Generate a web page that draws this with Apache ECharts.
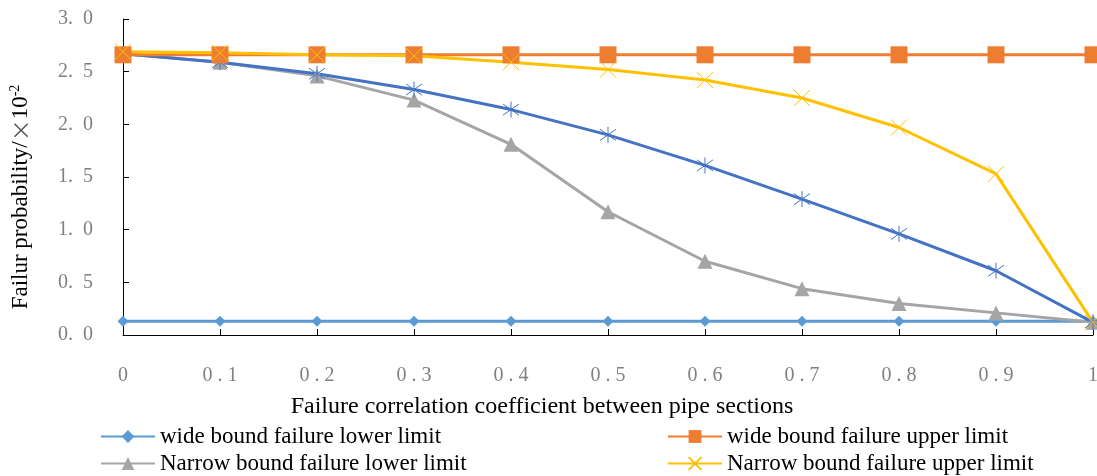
<!DOCTYPE html>
<html>
<head>
<meta charset="utf-8">
<script src="https://cdn.jsdelivr.net/npm/echarts@6/dist/echarts.min.js"></script>
<style>
  html, body { margin: 0; padding: 0; background: #fff; }
  #chart { width: 1097px; height: 476px; }
</style>
</head>
<body>
<div id="chart"></div>
<script>
  // correlation coefficient categories
  const categories = ['0', '0.1', '0.2', '0.3', '0.4', '0.5', '0.6', '0.7', '0.8', '0.9', '1']
  // failure probability, x10^-2
  const wideLower = [0.13, 0.13, 0.13, 0.13, 0.13, 0.13, 0.13, 0.13, 0.13, 0.13, 0.13]
  const wideUpper = [2.66, 2.66, 2.66, 2.66, 2.66, 2.66, 2.66, 2.66, 2.66, 2.66, 2.66]
  const narrowLower = [2.67, 2.59, 2.46, 2.23, 1.81, 1.17, 0.70, 0.44, 0.30, 0.21, 0.12]
  const narrowUpper = [2.69, 2.68, 2.66, 2.65, 2.59, 2.52, 2.42, 2.25, 1.97, 1.53, 0.12]
  const exactValue = [2.67, 2.59, 2.48, 2.33, 2.14, 1.90, 1.61, 1.29, 0.96, 0.61, 0.12]

  const serif = 'Liberation Serif'
  const crossPath = 'path://M0,0L10,10M10,0L0,10'
  const starPath = 'path://M5,0L5,10M0,1.5L10,8.5M10,1.5L0,8.5'

  function lineSeries (name, data, color, symbol, size, extra) {
    return Object.assign({
      name: name,
      type: 'line',
      data: data,
      symbol: symbol,
      symbolSize: size,
      lineStyle: {color: color, width: 3},
      itemStyle: {color: color},
      animation: false
    }, extra || {})
  }

  // one legend per entry so the two columns line up like the original
  function legendItem (name, left, top) {
    return {
      left: left,
      top: top,
      itemWidth: 54,
      itemHeight: 16,
      itemGap: 5,
      padding: 0,
      data: [name],
      textStyle: {fontFamily: serif, fontSize: 23, color: '#000'}
    }
  }

  const option = {
    backgroundColor: '#fff',
    textStyle: {fontFamily: serif},
    grid: {left: 123, right: 4, top: 19, bottom: 141, outerBoundsMode: 'none', containLabel: false},
    legend: [
      legendItem('wide bound failure lower limit', 100, 425),
      legendItem('Narrow bound failure lower limit', 100, 452),
      legendItem('wide bound failure upper limit', 667, 425),
      legendItem('Narrow bound failure upper limit', 667, 452)
    ],
    xAxis: {
      type: 'category',
      data: categories,
      boundaryGap: false,
      name: 'Failure correlation coefficient between pipe sections',
      nameLocation: 'middle',
      nameGap: 60,
      nameTextStyle: {fontFamily: serif, fontSize: 24, color: '#000', padding: [0, 132, 0, 0]},
      axisLine: {lineStyle: {color: '#000', width: 1}},
      axisTick: {inside: true, length: 6, lineStyle: {color: '#000'}},
      axisLabel: {
        margin: 31,
        fontFamily: serif,
        fontSize: 20,
        color: '#808080',
        formatter: v => v.split('').join(' ')
      }
    },
    yAxis: {
      type: 'value',
      min: 0,
      max: 3,
      interval: 0.5,
      name: '{a|Failur probability/}{m|×}{a|10}{s|-2}',
      nameLocation: 'middle',
      nameGap: 89,
      nameTextStyle: {
        fontFamily: serif,
        fontSize: 23,
        color: '#000',
        padding: [0, 40, 0, 0],
        rich: {
          a: {fontFamily: serif, fontSize: 23, color: '#000'},
          m: {fontFamily: 'Noto Sans CJK SC', fontSize: 22, color: '#555'},
          s: {fontFamily: serif, fontSize: 14, color: '#000', padding: [0, 0, 12, 0]}
        }
      },
      splitLine: {show: false},
      axisLine: {show: true, lineStyle: {color: '#000', width: 1}},
      axisTick: {show: true, inside: true, length: 6, lineStyle: {color: '#000'}},
      axisLabel: {
        margin: 30,
        fontFamily: serif,
        fontSize: 20,
        color: '#808080',
        formatter: v => v.toFixed(1).replace('.', '.  ')
      }
    },
    series: [
      lineSeries('wide bound failure lower limit', wideLower, '#5B9BD5', 'diamond', 11),
      lineSeries('Narrow bound failure lower limit', narrowLower, '#A5A5A5', 'triangle', 15),
      lineSeries('exact', exactValue, '#4472C4', starPath, 16, {
        itemStyle: {color: 'none', borderColor: '#4472C4', borderWidth: 1}
      }),
      lineSeries('wide bound failure upper limit', wideUpper, '#ED7D31', 'rect', 17),
      lineSeries('Narrow bound failure upper limit', narrowUpper, '#FFC000', crossPath, 16, {
        itemStyle: {color: 'none', borderColor: '#FFC000', borderWidth: 1}
      })
    ]
  }

  const chart = echarts.init(document.getElementById('chart'))
  chart.setOption(option)
</script>
</body>
</html>
